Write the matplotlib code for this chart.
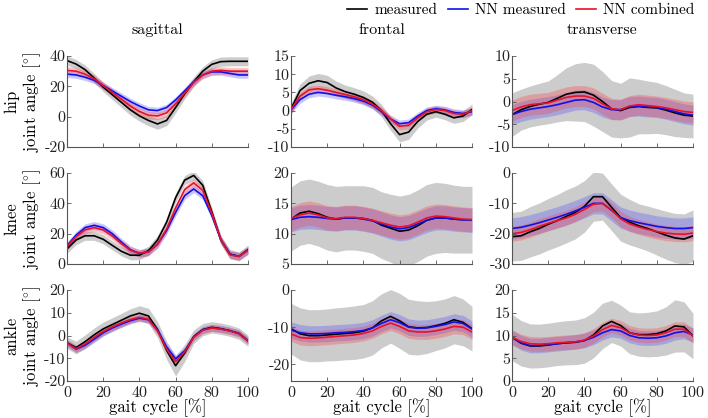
import numpy as np
import matplotlib
from matplotlib import pyplot as plt

matplotlib.use("Agg")

plt.rcParams["font.family"] = "serif"
plt.rcParams["font.serif"] = ["cmr10"]
plt.rcParams["mathtext.fontset"] = "cm"
plt.rcParams["axes.unicode_minus"] = False

# gait cycle samples [%]
gait = np.arange(0, 101, 5)

joints = ["hip", "knee", "ankle"]
planes = ["sagittal", "frontal", "transverse"]
legend_labels = ["measured", "NN measured", "NN combined"]

# hip
hip_sag_meas = [37, 34.7, 31, 25.5, 19.5, 14.5, 9.5, 4.5, 0.5, -2.5, -4.8, -2.5, 6, 15, 23, 30, 34.5, 36.3, 36.5, 36.5, 36.5]
hip_sag_nnm = [28, 27.5, 26, 24, 20.5, 17, 13.5, 10, 7, 4.5, 4, 6, 11, 17, 23, 27.5, 29.5, 29.5, 28.5, 27.5, 27.5]
hip_sag_nnc = [30.5, 30, 28, 25, 20.5, 16, 11.5, 7, 3.5, 1, 0.5, 2.5, 8.5, 15.5, 22.5, 27.5, 30, 30.5, 30, 30, 30]
hip_sag_sd = [3, 3, 3, 3, 3, 3.2, 3.4, 3.5, 3.5, 3.5, 3.5, 3.5, 3.5, 3.3, 3.2, 3, 3, 3, 3, 3, 3]

hip_fro_meas = [0.5, 5.5, 7.5, 8.2, 7.7, 6.2, 5.2, 4.5, 3.6, 2.3, 0, -3.6, -6.6, -5.9, -3, -1, -0.3, -1, -2, -1.5, 0.3]
hip_fro_nnm = [0.2, 3, 4.5, 5, 4.7, 4.2, 3.8, 3.3, 2.6, 1.5, -0.3, -2.3, -3.6, -3.3, -1.5, 0, 0.5, 0.2, -0.5, -0.8, -0.3]
hip_fro_nnc = [0.3, 4, 5.7, 6, 5.6, 5, 4.4, 3.8, 3, 1.8, 0, -2.3, -4.3, -4, -2, -0.3, 0.3, 0, -0.8, -1, 0]
hip_fro_sd = [1.5, 1.8, 2, 2, 2, 1.9, 1.8, 1.8, 1.8, 1.7, 1.7, 1.8, 2, 2, 1.8, 1.6, 1.5, 1.5, 1.5, 1.5, 1.5]

hip_tra_meas = [-2.9, -1.8, -1.1, -0.6, -0.2, 0.7, 1.6, 2, 2.1, 1.4, 0, -1.6, -2, -1.3, -1.1, -1.3, -1.4, -1.9, -2.5, -3, -3.2]
hip_tra_nnm = [-2.9, -2.2, -1.7, -1.4, -1.1, -0.7, -0.2, 0.3, 0.4, -0.2, -1.2, -1.8, -1.8, -1.1, -1, -1.2, -1.3, -1.7, -2.2, -2.7, -3]
hip_tra_nnc = [-2, -1.2, -0.7, -0.5, -0.3, 0.3, 0.9, 1.2, 1.2, 0.7, -0.5, -1.6, -1.8, -1, -0.7, -0.9, -1.1, -1.4, -1.8, -2.2, -2.4]
hip_tra_sd = [4.8, 4.5, 4.5, 4.6, 4.7, 5.2, 5.8, 6.3, 6.5, 6.8, 6.6, 6.2, 6, 6.5, 6, 5.8, 5.6, 5.4, 5.2, 4.9, 4.8]

# knee
knee_sag_meas = [10, 15.8, 18.6, 18.6, 16.3, 12.3, 8.4, 5.8, 5.8, 8.8, 15.8, 27.4, 43.7, 55.3, 58.4, 51.9, 34.4, 15.8, 6.5, 5, 9.5]
knee_sag_nnm = [12, 19, 24, 25.5, 24, 20, 14.5, 9.5, 7, 8, 13, 22, 34, 45, 49.5, 45, 32, 16, 6.5, 5, 9]
knee_sag_nnc = [11.5, 18, 22.5, 24, 22.5, 18.5, 13.5, 9, 7, 8, 13, 23, 37, 49, 53.5, 48.5, 33.5, 16, 6, 5, 9]
knee_sag_sd = [3] * 21

knee_fro_meas = [12.4, 13.4, 13.7, 13.3, 12.7, 12.4, 12.6, 12.6, 12.5, 12.2, 11.4, 10.9, 10.4, 10.6, 11.3, 12.2, 12.6, 12.6, 12.4, 12.3, 12.3]
knee_fro_nnm = [12.3, 12.7, 12.8, 12.7, 12.5, 12.4, 12.6, 12.6, 12.4, 12.1, 11.6, 11.1, 10.8, 11, 11.6, 12.2, 12.6, 12.6, 12.4, 12.3, 12.2]
knee_fro_nnc = [12.5, 13.1, 13.4, 13.1, 12.6, 12.5, 12.7, 12.7, 12.5, 12.2, 11.8, 11.4, 11.1, 11.3, 11.9, 12.6, 12.9, 12.8, 12.6, 12.4, 12.3]
knee_fro_sd = [5.3, 5.3, 5.3, 5.35, 5.4, 5.4, 5.3, 5.3, 5.4, 5.45, 5.5, 5.6, 5.8, 5.9, 5.9, 5.9, 5.85, 5.7, 5.6, 5.5, 5.5]

knee_tra_meas = [-21, -20.7, -19.4, -18.3, -16.9, -15.7, -14.3, -13, -11, -7.8, -7.8, -11.3, -14.7, -16.2, -17.4, -18.3, -19.4, -20.5, -21.4, -21.8, -20.7]
knee_tra_nnm = [-18.3, -17.9, -17.2, -16.4, -15.5, -14.6, -13.6, -12.5, -11.3, -10, -10, -12.3, -14.7, -15.7, -16.4, -17, -17.6, -18, -18.3, -18.3, -18]
knee_tra_nnc = [-20, -19.6, -18.7, -17.6, -16.6, -15.7, -14.8, -13.6, -12, -10.3, -10, -12.2, -15.1, -16.8, -17.8, -18.6, -19.3, -19.8, -20.1, -20.2, -19.8]
knee_tra_sd = [8, 8.1, 8.3, 8.4, 8.5, 8.6, 8.75, 8.7, 8.5, 8.1, 7.75, 7.7, 7.75, 7.5, 7.25, 7.4, 7.65, 7.9, 8.1, 8.3, 8.5]

# ankle
ank_sag_meas = [-3.2, -5.3, -2.7, 0.3, 2.9, 4.8, 6.7, 8.6, 9.8, 8.6, 2.6, -6.5, -13.3, -7.7, -0.5, 2.6, 3.6, 3, 2.1, 0.8, -2.3]
ank_sag_nnm = [-3.3, -6, -4.3, -1.6, 1.2, 3.3, 5, 6.5, 7.6, 6.9, 2.5, -5, -10.3, -6.7, -0.6, 2.5, 3.4, 2.9, 2.1, 1, -2.3]
ank_sag_nnc = [-3.3, -5.8, -3.7, -0.8, 1.8, 3.8, 5.5, 7, 8, 7.2, 2, -6, -11.5, -7.2, -0.8, 2.3, 3.3, 2.8, 2, 0.8, -2.3]
ank_sag_sd = [2.5, 2.8, 3, 3, 3, 3, 3, 3.1, 3.3, 3.4, 3.5, 4, 4.5, 3.8, 3, 2.7, 2.5, 2.5, 2.5, 2.5, 2.5]

ank_fro_meas = [-10.4, -11.8, -12.3, -12.3, -12.1, -11.9, -11.7, -11.5, -11.1, -10.2, -8.3, -7.1, -8.3, -9.9, -10.2, -10.1, -9.6, -9, -8, -8.7, -10.4]
ank_fro_nnm = [-10.8, -11.5, -11.8, -11.8, -11.7, -11.5, -11.4, -11.2, -10.9, -10.2, -9, -8, -8.8, -10, -10.3, -10.2, -9.8, -9.3, -8.6, -9, -10.5]
ank_fro_nnc = [-11.8, -12.8, -13, -12.9, -12.7, -12.5, -12.3, -12.1, -11.7, -11, -9.8, -8.9, -9.8, -11, -11.3, -11.3, -11, -10.5, -9.8, -10, -11.3]
ank_fro_sd = [6.8, 7, 7, 7, 7, 7.1, 7.1, 7.2, 7.2, 7.3, 7.3, 7.2, 7.4, 7.4, 7.3, 7, 6.7, 6.6, 6.5, 6.3, 6]

ank_tra_meas = [9.6, 8.3, 7.7, 7.7, 7.9, 8.2, 8.4, 8.5, 8.9, 10.1, 12.1, 13.1, 12.2, 10.6, 10.2, 10.2, 10.4, 11, 12.1, 11.9, 9.9]
ank_tra_nnm = [9.6, 8.4, 7.8, 7.8, 8, 8.2, 8.4, 8.6, 8.9, 9.6, 10.6, 11.3, 11, 10, 9.5, 9.4, 9.5, 9.9, 10.6, 10.9, 10.1]
ank_tra_nnc = [9.6, 8.7, 8.2, 8.1, 8.2, 8.4, 8.5, 8.6, 9, 9.9, 11.3, 12.2, 11.7, 10.6, 10.1, 10, 10.1, 10.6, 11.4, 11.4, 9.9]
ank_tra_sd = [5.1, 5, 4.85, 4.8, 4.8, 4.8, 4.85, 4.9, 5, 5, 5, 4.65, 4.5, 4.6, 4.75, 4.9, 5, 5.3, 5.75, 5.5, 5]

# spread of the two networks (roughly constant per panel)
nnm_sd = [[2.2, 1.0, 2.2], [2.5, 2.0, 3.5], [1.5, 2.2, 1.6]]
nnc_sd = [[2.5, 1.0, 2.3], [2.5, 2.0, 2.5], [1.5, 2.0, 1.6]]

yticks = [[[-20, 0, 20, 40], [-10, -5, 0, 5, 10, 15], [-10, -5, 0, 5, 10]],
          [[0, 20, 40, 60], [5, 10, 15, 20], [-30, -20, -10, 0]],
          [[-20, -10, 0, 10, 20], [-20, -10, 0], [0, 5, 10, 15, 20]]]
ylims = [[(-20, 40), (-10, 15), (-10, 10)],
         [(0, 60), (5, 20), (-30, 0)],
         [(-20, 20), (-24.5, 0), (0, 20)]]

data = [
    [(hip_sag_meas, hip_sag_nnm, hip_sag_nnc, hip_sag_sd),
     (hip_fro_meas, hip_fro_nnm, hip_fro_nnc, hip_fro_sd),
     (hip_tra_meas, hip_tra_nnm, hip_tra_nnc, hip_tra_sd)],
    [(knee_sag_meas, knee_sag_nnm, knee_sag_nnc, knee_sag_sd),
     (knee_fro_meas, knee_fro_nnm, knee_fro_nnc, knee_fro_sd),
     (knee_tra_meas, knee_tra_nnm, knee_tra_nnc, knee_tra_sd)],
    [(ank_sag_meas, ank_sag_nnm, ank_sag_nnc, ank_sag_sd),
     (ank_fro_meas, ank_fro_nnm, ank_fro_nnc, ank_fro_sd),
     (ank_tra_meas, ank_tra_nnm, ank_tra_nnc, ank_tra_sd)],
]

W, H = 708, 418
fig = plt.figure(figsize=(W / 100, H / 100), dpi=100)

col_left = [67, 291, 512]
row_top = [56, 173, 290]
ax_w, ax_h = 181, 91

c_meas = "black"
c_nnm = "#1010e8"
c_nnc = "#e8102a"
spine_c = "#555555"

for r in range(3):
    for c in range(3):
        meas, nnm, nnc, sd = [np.array(a, dtype=float) for a in data[r][c]]
        ax = fig.add_axes([col_left[c] / W, 1 - (row_top[r] + ax_h) / H, ax_w / W, ax_h / H])

        ax.fill_between(gait, meas - sd, meas + sd, color="#cccccc", lw=0)
        ax.fill_between(gait, nnm - nnm_sd[r][c], nnm + nnm_sd[r][c], color="#4a4aff", alpha=0.3, lw=0)
        ax.fill_between(gait, nnc - nnc_sd[r][c], nnc + nnc_sd[r][c], color="#ff3a3a", alpha=0.3, lw=0)
        l1, = ax.plot(gait, meas, color=c_meas, lw=1.2, solid_joinstyle="round")
        l2, = ax.plot(gait, nnm, color=c_nnm, lw=1.2, solid_joinstyle="round")
        l3, = ax.plot(gait, nnc, color=c_nnc, lw=1.2, solid_joinstyle="round")

        ax.set_xlim(0, 100)
        ax.set_ylim(*ylims[r][c])
        ax.set_xticks([0, 20, 40, 60, 80, 100])
        ax.set_yticks(yticks[r][c])
        for s in ["top", "right"]:
            ax.spines[s].set_visible(False)
        for s in ["left", "bottom"]:
            ax.spines[s].set_color(spine_c)
            ax.spines[s].set_linewidth(0.8)
        ax.tick_params(direction="in", length=3, width=0.6, color=spine_c,
                       labelsize=11.5, labelcolor="#222222", pad=1)
        ax.tick_params(axis="x", pad=4)
        if r < 2:
            ax.set_xticklabels([])
        else:
            ax.set_xlabel("gait cycle [%]", fontsize=12, labelpad=-1)

        if r == 0:
            fig.text((col_left[c] + ax_w / 2) / W, 1 - 30 / H, planes[c],
                     ha="center", va="center", fontsize=11.5)
        if c == 0:
            yc = 1 - (row_top[r] + ax_h / 2) / H
            fig.text(12 / W, yc, joints[r], rotation=90, ha="center", va="center", fontsize=12)
            fig.text(32 / W, yc, r"joint angle [$^{\circ}$]", rotation=90,
                     ha="center", va="center", fontsize=12)

fig.legend([l1, l2, l3], legend_labels, loc="upper right", bbox_to_anchor=(1.0, 1.025),
           ncol=3, frameon=False, fontsize=11, handlelength=1.3, handletextpad=0.45,
           columnspacing=0.7)

plt.savefig("out.png", dpi=100)
